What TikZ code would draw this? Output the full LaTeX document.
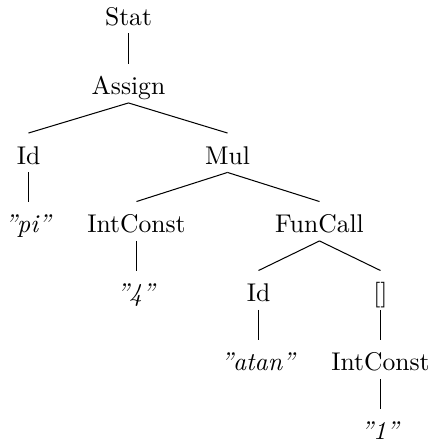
\documentclass[tikz,border=0pt]{standalone}
\begin{document}
\begin{tikzpicture}[x=0.3906pt, y=-0.3906pt,
  tn/.style={anchor=base, inner xsep=2pt, inner ysep=3.1pt, text height=8.8pt, text depth=0pt},
  br/.style={line width=0.4pt}]
\useasboundingbox (0,0) rectangle (430,442);
% tree nodes, placed by their baselines
\node[tn] (stat)   at (128.5,25)    {Stat};
\node[tn] (assign) at (128.5,94.5)  {Assign};
\node[tn] (id1)    at (28.5,164)  {Id};
\node[tn] (mul)    at (227.5,164) {Mul};
\node[tn] (pi)     at (28.5,232.5) {\textit{''pi''}};
\node[tn] (ic1)    at (136.5,232.5) {IntConst};
\node[tn] (fc)     at (319.5,232.5) {FunCall};
\node[tn] (four)   at (136.5,301.5) {\textit{''4''}};
\node[tn] (id2)    at (258.5,301.5) {Id};
\node[tn] (brk)    at (380.5,301.5) {[]};
\node[tn] (atan)   at (258.5,370.5) {\textit{''atan''}};
\node[tn] (ic2)    at (380.5,370.5) {IntConst};
\node[tn] (one)    at (380.5,439.5) {\textit{''1''}};
% branches
\draw[br] (stat.south) -- (assign.north);
\draw[br] (assign.south) -- (id1.north);
\draw[br] (assign.south) -- (mul.north);
\draw[br] (id1.south) -- (pi.north);
\draw[br] (mul.south) -- (ic1.north);
\draw[br] (mul.south) -- (fc.north);
\draw[br] (ic1.south) -- (four.north);
\draw[br] (fc.south) -- (id2.north);
\draw[br] (fc.south) -- (brk.north);
\draw[br] (id2.south) -- (atan.north);
\draw[br] (brk.south) -- (ic2.north);
\draw[br] (ic2.south) -- (one.north);
\end{tikzpicture}
\end{document}
